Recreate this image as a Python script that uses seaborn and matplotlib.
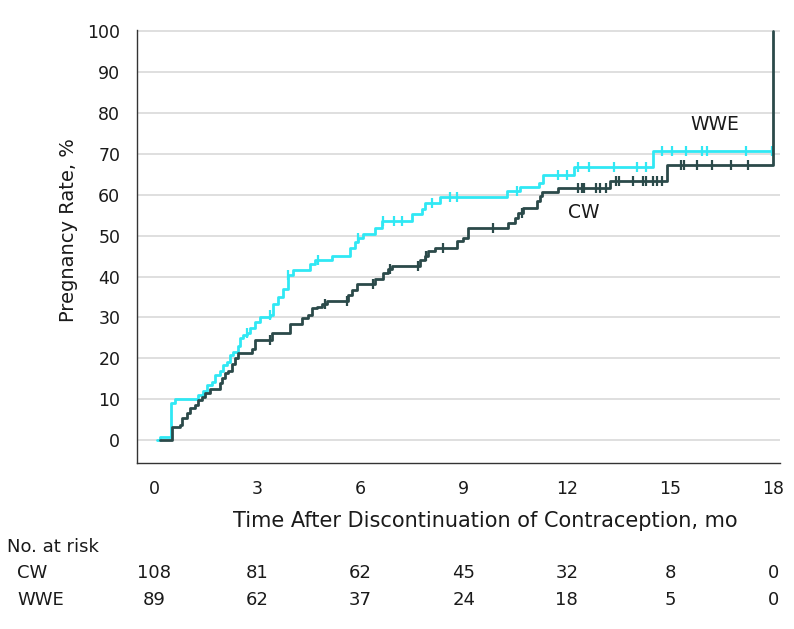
import matplotlib
matplotlib.use("Agg")
import matplotlib.pyplot as plt
import matplotlib.transforms as mtransforms
import seaborn as sns
import pandas as pd
import numpy as np

# Step data (months, cumulative pregnancy rate %)
wwe_time = [0.09, 0.17, 0.49, 0.61, 1.28, 1.42, 1.54, 1.68, 1.77, 1.92, 2.0, 2.12, 2.21,
            2.29, 2.44, 2.5, 2.58, 2.7, 2.79, 2.93, 3.08, 3.37, 3.46, 3.6, 3.75, 3.89,
            4.04, 4.53, 4.67, 5.17, 5.69, 5.84, 5.92, 6.07, 6.42, 6.62, 7.49, 7.78, 7.87,
            8.3, 10.25, 10.63, 11.2, 11.3, 12.22, 14.49, 17.97]
wwe_rate = [0, 0.8, 9, 10, 11, 12, 13.4, 14.1, 15.8, 17, 18.3, 19, 20.7,
            21.5, 23, 25, 25.6, 26.3, 27.5, 29, 30, 30.5, 33.4, 35, 37, 40.5,
            41.5, 43, 44, 45, 47, 48.5, 49.5, 50.5, 52, 53.5, 55.3, 56.6, 58,
            59.5, 61, 62, 63, 64.8, 66.7, 70.8, 70.8]

cw_time = [0.17, 0.52, 0.75, 0.81, 0.96, 1.05, 1.19, 1.28, 1.39, 1.48, 1.63, 1.92, 1.97,
           2.06, 2.15, 2.26, 2.35, 2.44, 2.85, 2.93, 3.43, 3.95, 4.3, 4.47, 4.59, 4.73,
           4.88, 5.02, 5.63, 5.75, 5.89, 6.42, 6.65, 6.79, 6.91, 7.72, 7.87, 7.96, 8.16,
           8.8, 8.97, 9.12, 10.28, 10.48, 10.57, 10.71, 11.12, 11.21, 11.27, 11.73,
           13.24, 14.92, 18.0]
cw_rate = [0, 3.2, 3.6, 5.3, 6.5, 7.8, 8.5, 9.8, 10.5, 11.4, 12.5, 13.9, 15.1,
           16.3, 17, 18.7, 20.2, 21.2, 22.4, 24.6, 26.3, 28.5, 29.8, 30.5, 32.2, 32.6,
           33.2, 34, 35.6, 36.8, 38.3, 39.5, 41, 41.9, 42.7, 44, 45, 46.3, 47,
           48.8, 49.5, 52, 53, 54.4, 55.6, 56.8, 58.5, 59.8, 60.8, 61.7,
           63.4, 67.4, 100]

# Censoring times
wwe_censor = [2.70, 3.37, 3.89, 4.76, 5.92, 6.65, 6.97, 7.20, 8.07, 8.59, 8.8, 10.54,
              11.73, 11.99, 12.33, 12.63, 13.36, 14.05, 14.29, 14.78, 15.07, 15.45,
              15.94, 16.06, 17.22, 17.97]
cw_censor = [3.37, 4.97, 5.6, 6.36, 6.85, 7.67, 7.9, 8.39, 9.84, 10.69, 12.31, 12.43,
             12.51, 12.86, 12.95, 13.15, 13.44, 13.53, 13.91, 14.2, 14.31, 14.49, 14.63,
             14.78, 15.33, 15.42, 15.77, 16.23, 16.78, 17.28]

x_ticks = [0, 3, 6, 9, 12, 15, 18]
cw_at_risk = [108, 81, 62, 45, 32, 8, 0]
wwe_at_risk = [89, 62, 37, 24, 18, 5, 0]

CYAN = "#30e8f4"
DARK = "#2b4a4a"
TEXT = "#1a1a1a"


def step_value(times, rates, at):
    t = np.asarray(times)
    r = np.asarray(rates)
    idx = np.searchsorted(t, at, side="right") - 1
    return r[np.clip(idx, 0, len(r) - 1)]


sns.set_style("white")
plt.rcParams["font.family"] = ["DejaVu Sans"]

fig = plt.figure(figsize=(7.94, 6.29), dpi=100)
ax = fig.add_axes([0.1725, 0.264, 0.810, 0.688])

wwe_df = pd.DataFrame({"time": wwe_time, "rate": wwe_rate})
cw_df = pd.DataFrame({"time": cw_time, "rate": cw_rate})

sns.lineplot(data=wwe_df, x="time", y="rate", ax=ax, color=CYAN, lw=2.0,
             drawstyle="steps-post", estimator=None, sort=False)
sns.lineplot(data=cw_df, x="time", y="rate", ax=ax, color=DARK, lw=2.0,
             drawstyle="steps-post", estimator=None, sort=False)

wwe_c = pd.DataFrame({"time": wwe_censor,
                      "rate": step_value(wwe_time, wwe_rate, np.array(wwe_censor))})
cw_c = pd.DataFrame({"time": cw_censor,
                     "rate": step_value(cw_time, cw_rate, np.array(cw_censor))})
sns.scatterplot(data=wwe_c, x="time", y="rate", ax=ax, marker="|", s=45,
                color=CYAN, linewidth=1.6)
sns.scatterplot(data=cw_c, x="time", y="rate", ax=ax, marker="|", s=45,
                color=DARK, linewidth=1.6)

ax.set_xlim(-0.5, 18.2)
ax.set_ylim(-5.6, 100.3)
ax.set_xticks(x_ticks)
ax.set_yticks(range(0, 101, 10))
ax.yaxis.grid(True, color="#d9d9d9", lw=1.2)
ax.xaxis.grid(False)
ax.set_axisbelow(True)
for side in ["top", "right"]:
    ax.spines[side].set_visible(False)
for side in ["left", "bottom"]:
    ax.spines[side].set_color("#333333")
    ax.spines[side].set_linewidth(1.0)
ax.tick_params(axis="both", direction="out", length=6, width=1, color="#333333",
               labelsize=12.5, labelcolor=TEXT, pad=6)

ax.set_xlabel("Time After Discontinuation of Contraception, mo", fontsize=15, color=TEXT)
ax.set_ylabel("Pregnancy Rate, %", fontsize=14, color=TEXT)
ax.xaxis.set_label_coords(0.541, -0.112)
ax.yaxis.set_label_coords(-0.092, 0.538)

ax.text(16.3, 77.2, "WWE", fontsize=13.5, color=TEXT, ha="center", va="center")
ax.text(12.5, 55.6, "CW", fontsize=13.5, color=TEXT, ha="center", va="center")

# Number at risk table below the axis
trans = mtransforms.blended_transform_factory(ax.transData, fig.transFigure)
fig.text(0.009, 1 - 547 / 629, "No. at risk", fontsize=13, color=TEXT,
         ha="left", va="center")
fig.text(0.022, 1 - 573 / 629, "CW", fontsize=13, color=TEXT, ha="left", va="center")
fig.text(0.022, 1 - 600 / 629, "WWE", fontsize=13, color=TEXT, ha="left", va="center")
for xt, c, w in zip(x_ticks, cw_at_risk, wwe_at_risk):
    ax.text(xt, 1 - 573 / 629, str(c), transform=trans, fontsize=13, color=TEXT,
            ha="center", va="center", clip_on=False)
    ax.text(xt, 1 - 600 / 629, str(w), transform=trans, fontsize=13, color=TEXT,
            ha="center", va="center", clip_on=False)

fig.savefig("out.png", dpi=100)
